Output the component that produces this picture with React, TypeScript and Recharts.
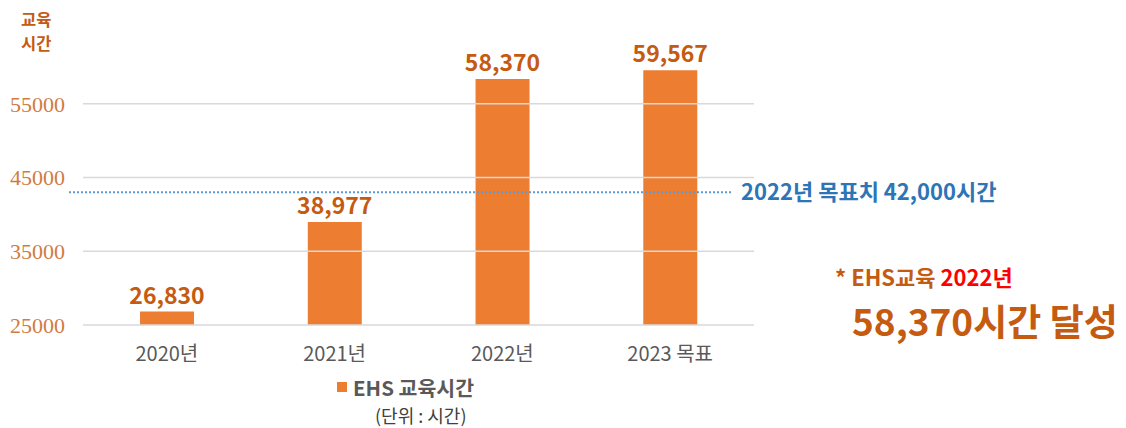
import React from 'react';
import { BarChart, Bar, XAxis, YAxis, ReferenceLine, LabelList } from 'recharts';

const categories = ['2020년', '2021년', '2022년', '2023 목표'];
const hours = [26830, 38977, 58370, 59567];
const yTicks = [25000, 35000, 45000, 55000];
const targetLinePos = 43000;
const targetLabel = '2022년 목표치 42,000시간';

const data = categories.map((name, i) => ({ name, hours: hours[i] }));

const KR = '"Noto Sans CJK KR", "Noto Sans", sans-serif';
const ORANGE = '#ed7d31';
const DARK_ORANGE = '#c55a11';

const TargetLine = (props: any) => {
  const { x1, x2, y1 } = props;
  return (
    <g>
      <line x1={x1 - 14} x2={x2 - 21} y1={y1} y2={y1} stroke="#5b9bd5" strokeWidth={2} strokeDasharray="2 2" />
      <text x={x2 - 13} y={y1} dy="0.35em" fill="#2e75b6" fontSize={22} fontWeight={700} fontFamily={KR}>
        {targetLabel}
      </text>
    </g>
  );
};

export default function App() {
  return (
    <div style={{ position: 'absolute', left: 0, top: 0, width: 1126, height: 428, background: '#fff', fontFamily: KR }}>
      <BarChart
        width={1126}
        height={428}
        data={data}
        margin={{ top: 67, right: 372, bottom: 73, left: 0 }}
        barCategoryGap="34%"
      >
        <XAxis
          dataKey="name"
          height={30}
          axisLine={false}
          tickLine={false}
          tickMargin={16}
          tick={{ fill: '#595959', fontSize: 20, fontFamily: KR }}
        />
        <YAxis
          width={83}
          domain={[25000, 60000]}
          ticks={yTicks}
          axisLine={false}
          tickLine={false}
          tickMargin={12}
          tick={{ fill: '#d07b43', fontSize: 22, fontFamily: '"Liberation Serif", serif' }}
        />
        {yTicks.map((t) => (
          <ReferenceLine key={t} y={t} stroke="#d9d9d9" strokeWidth={1.5} />
        ))}
        <ReferenceLine y={targetLinePos} shape={TargetLine} ifOverflow="visible" />
        <Bar dataKey="hours" fill={ORANGE} isAnimationActive={false}>
          <LabelList
            dataKey="hours"
            position="top"
            offset={8}
            formatter={(v: any) => Number(v).toLocaleString('en-US')}
            fill={DARK_ORANGE}
            fontSize={23}
            fontWeight={700}
            fontFamily={KR}
          />
        </Bar>
      </BarChart>

      <div style={{ position: 'absolute', left: 21, top: 7, color: DARK_ORANGE, fontWeight: 700, fontSize: 16.5, lineHeight: '24px' }}>
        <div>교육</div>
        <div>시간</div>
      </div>

      <div style={{ position: 'absolute', left: 337, top: 376, display: 'flex', alignItems: 'center', color: '#595959', fontWeight: 700, fontSize: 20.5, lineHeight: '22px', whiteSpace: 'nowrap' }}>
        <span style={{ width: 10, height: 10, background: ORANGE, display: 'inline-block', marginRight: 6 }} />
        EHS 교육시간
      </div>
      <div style={{ position: 'absolute', left: 375, top: 405, color: '#404040', fontSize: 18, lineHeight: '20px', whiteSpace: 'nowrap' }}>(단위 : 시간)</div>

      <div style={{ position: 'absolute', left: 835, top: 265, fontWeight: 700, fontSize: 22, lineHeight: '22px', color: DARK_ORANGE, whiteSpace: 'nowrap' }}>
        * EHS교육 <span style={{ color: '#ff0000' }}>2022년</span>
      </div>
      <div style={{ position: 'absolute', left: 852, top: 301, fontWeight: 700, fontSize: 37, color: DARK_ORANGE, whiteSpace: 'nowrap', lineHeight: '38px' }}>
        58,370시간 달성
      </div>
    </div>
  );
}
